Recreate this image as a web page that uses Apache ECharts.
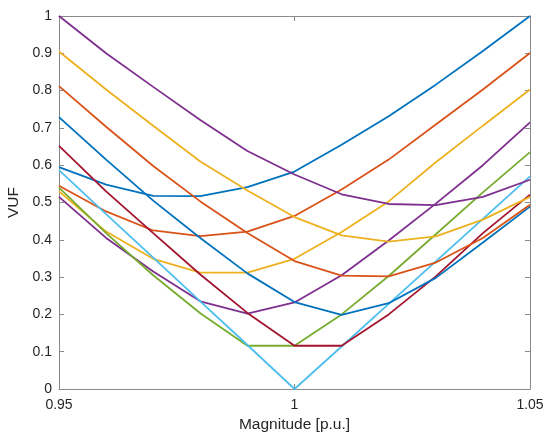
<!DOCTYPE html>
<html>
<head>
<meta charset="utf-8">
<script src="https://cdn.jsdelivr.net/npm/echarts@6/dist/echarts.min.js"></script>
<style>
  html, body { margin: 0; padding: 0; background: #fff; }
  #chart { width: 546px; height: 434px; }
</style>
</head>
<body>
<div id="chart"></div>
<script>
// Voltage magnitude steps [p.u.]
const magnitude = [0.95, 0.96, 0.97, 0.98, 0.99, 1.00, 1.01, 1.02, 1.03, 1.04, 1.05];

// VUF curves, one per case
const vufBlue1   = [0.595, 0.548, 0.518, 0.517, 0.541, 0.583, 0.655, 0.731, 0.816, 0.906, 1.000];
const vufOrange1 = [0.545, 0.476, 0.425, 0.410, 0.422, 0.464, 0.535, 0.615, 0.709, 0.803, 0.901];
const vufYellow1 = [0.530, 0.422, 0.349, 0.312, 0.312, 0.349, 0.421, 0.503, 0.608, 0.706, 0.803];
const vufPurple1 = [0.515, 0.405, 0.315, 0.235, 0.202, 0.232, 0.305, 0.398, 0.497, 0.600, 0.715];
const vufGreen   = [0.540, 0.418, 0.305, 0.203, 0.116, 0.116, 0.200, 0.303, 0.415, 0.527, 0.635];
const vufCyan    = [0.587, 0.469, 0.352, 0.235, 0.118, 0.000, 0.114, 0.228, 0.342, 0.456, 0.570];
const vufRed     = [0.652, 0.530, 0.418, 0.307, 0.204, 0.116, 0.116, 0.200, 0.302, 0.418, 0.521];
const vufBlue2   = [0.729, 0.615, 0.505, 0.405, 0.310, 0.233, 0.199, 0.230, 0.298, 0.393, 0.489];
const vufOrange2 = [0.812, 0.703, 0.598, 0.503, 0.418, 0.343, 0.304, 0.302, 0.339, 0.405, 0.494];
const vufYellow2 = [0.905, 0.803, 0.706, 0.610, 0.532, 0.461, 0.412, 0.395, 0.409, 0.454, 0.515];
const vufPurple2 = [1.000, 0.900, 0.810, 0.721, 0.638, 0.575, 0.522, 0.496, 0.493, 0.515, 0.561];

const curves = [vufBlue1, vufOrange1, vufYellow1, vufPurple1, vufGreen, vufCyan, vufRed,
                vufBlue2, vufOrange2, vufYellow2, vufPurple2];
const palette = ['#0072BD', '#D95319', '#EDB120', '#7E2F8E', '#77AC30', '#4DBEEE', '#A2142F'];

const axisColor = '#8a8a8a';
const textColor = '#262626';
const font = 'Liberation Sans, Arial, Helvetica, sans-serif';

const chart = echarts.init(document.getElementById('chart'), null, { renderer: 'canvas' });

const baseX = {
  type: 'value', min: 0.95, max: 1.05, interval: 0.05,
  axisLine: { show: true, onZero: false, lineStyle: { color: axisColor, width: 1 } },
  axisTick: { show: true, inside: true, length: 5, lineStyle: { color: axisColor } },
  splitLine: { show: false }
};
const baseY = {
  type: 'value', min: 0, max: 1, interval: 0.1,
  axisLine: { show: true, onZero: false, lineStyle: { color: axisColor, width: 1 } },
  axisTick: { show: true, inside: true, length: 5, lineStyle: { color: axisColor } },
  splitLine: { show: false }
};

chart.setOption({
  animation: false,
  backgroundColor: '#ffffff',
  grid: { left: 59, right: 16, top: 16, bottom: 45, containLabel: false, outerBoundsMode: 'none' },
  xAxis: [
    Object.assign({}, baseX, {
      position: 'bottom',
      name: 'Magnitude [p.u.]', nameLocation: 'middle', nameGap: 28,
      nameTextStyle: { color: textColor, fontSize: 15.5, fontFamily: font },
      axisLabel: { color: textColor, fontSize: 14, fontFamily: font, margin: 9,
                   formatter: v => String(Number(v.toFixed(2))) }
    }),
    Object.assign({}, baseX, { position: 'top', axisLabel: { show: false } })
  ],
  yAxis: [
    Object.assign({}, baseY, {
      position: 'left',
      name: 'VUF', nameLocation: 'middle', nameGap: 35,
      nameTextStyle: { color: textColor, fontSize: 15.5, fontFamily: font },
      axisLabel: { color: textColor, fontSize: 14, fontFamily: font, margin: 7,
                   formatter: v => String(Number(v.toFixed(1))) }
    }),
    Object.assign({}, baseY, { position: 'right', axisLabel: { show: false } })
  ],
  series: curves.map((vals, k) => ({
    type: 'line',
    xAxisIndex: 0,
    yAxisIndex: 0,
    data: magnitude.map((m, i) => [m, vals[i]]),
    showSymbol: false,
    symbol: 'none',
    lineStyle: { color: palette[k % palette.length], width: 1.8 },
    itemStyle: { color: palette[k % palette.length] },
    emphasis: { disabled: true }
  }))
});
</script>
</body>
</html>
